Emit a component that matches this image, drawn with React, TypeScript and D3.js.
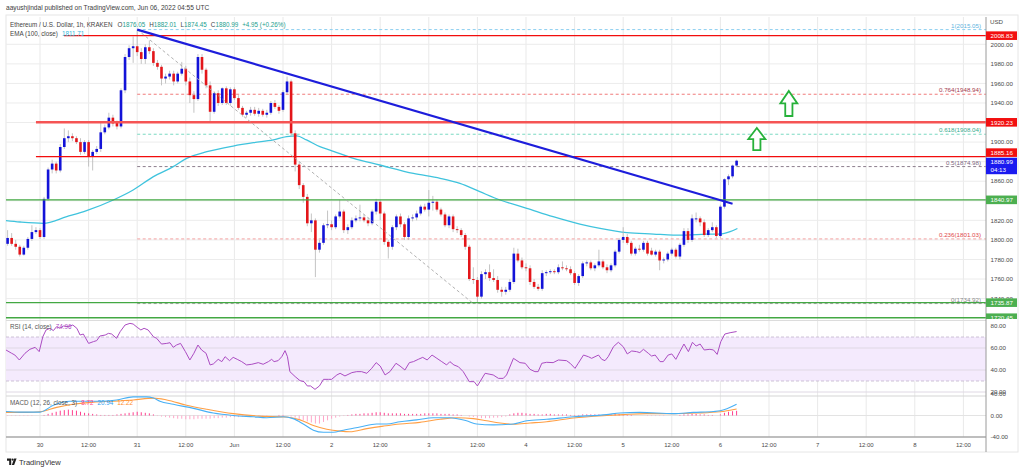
import * as d3 from 'd3'

// ETH/USD 1h, KRAKEN — hourly candles from 29 May 16:00 (hour -8) to 6 Jun 04:00 (hour 172)
const FIRST_HOUR = -8

const OPEN = [
  1796, 1802, 1796, 1793, 1785, 1792, 1801, 1808, 1810, 1803,
  1842, 1872, 1878, 1871, 1895, 1904, 1906, 1904, 1900, 1890,
  1900, 1885, 1890, 1893, 1910, 1915, 1925, 1920, 1916, 1953,
  1987, 1996, 1998, 1992, 1985, 1997, 1993, 1981, 1977, 1965,
  1967, 1970, 1962, 1970, 1975, 1962, 1948, 1944, 1987, 1974,
  1958, 1931, 1950, 1940, 1955, 1940, 1954, 1945, 1935, 1928,
  1930, 1933, 1929, 1932, 1928, 1930, 1940, 1936, 1933, 1951,
  1962, 1909, 1877, 1856, 1844, 1817, 1820, 1790, 1797, 1815,
  1816, 1813, 1824, 1829, 1810, 1813, 1820, 1822, 1823, 1820,
  1817, 1829, 1839, 1827, 1798, 1793, 1813, 1824, 1816, 1803,
  1822, 1823, 1827, 1834, 1831, 1838, 1839, 1831, 1826, 1815,
  1824, 1811, 1810, 1805, 1793, 1760, 1759, 1742, 1765, 1767,
  1761, 1759, 1749, 1747, 1749, 1757, 1786, 1779, 1772, 1771,
  1757, 1752, 1750, 1766, 1767, 1768, 1767, 1772, 1771, 1770,
  1766, 1756, 1763, 1776, 1777, 1771, 1774, 1778, 1772, 1769,
  1774, 1788, 1800, 1803, 1797, 1786, 1791, 1790, 1797, 1789,
  1785, 1788, 1779, 1780, 1786, 1790, 1783, 1795, 1809, 1800,
  1821, 1822, 1818, 1805, 1810, 1813, 1804, 1834, 1862, 1865,
  1876.05,
]
const CLOSE = [
  1802, 1796, 1793, 1785, 1792, 1801, 1808, 1810, 1803, 1842,
  1872, 1878, 1871, 1895, 1904, 1906, 1904, 1900, 1890, 1900,
  1885, 1890, 1893, 1910, 1915, 1925, 1919, 1916, 1953, 1987,
  1996, 1998, 1992, 1985, 1997, 1993, 1981, 1977, 1965, 1967,
  1970, 1962, 1970, 1975, 1962, 1948, 1944, 1987, 1974, 1958,
  1931, 1950, 1940, 1955, 1940, 1954, 1945, 1935, 1928, 1930,
  1933, 1929, 1932, 1928, 1930, 1940, 1936, 1932, 1951, 1962,
  1909, 1877, 1856, 1844, 1817, 1820, 1790, 1797, 1815, 1816,
  1813, 1824, 1829, 1810, 1813, 1820, 1822, 1823, 1820, 1817,
  1829, 1839, 1827, 1798, 1793, 1813, 1824, 1816, 1803, 1822,
  1823, 1827, 1834, 1831, 1838, 1839, 1831, 1826, 1815, 1824,
  1811, 1810, 1805, 1793, 1760, 1759, 1742, 1765, 1767, 1761,
  1759, 1749, 1747, 1749, 1757, 1786, 1779, 1772, 1771, 1757,
  1752, 1750, 1766, 1767, 1768, 1767, 1772, 1771, 1770, 1766,
  1756, 1763, 1776, 1777, 1771, 1774, 1778, 1772, 1769, 1774,
  1788, 1800, 1803, 1797, 1786, 1791, 1790, 1797, 1786, 1785,
  1788, 1779, 1780, 1786, 1790, 1783, 1795, 1809, 1800, 1822,
  1822, 1818, 1805, 1810, 1813, 1804, 1834, 1862, 1865, 1876,
  1880.99,
]
const HIGH = [
  1810, 1807, 1800, 1795, 1794, 1803, 1815, 1813, 1812, 1844,
  1874, 1882, 1880, 1898, 1914, 1912, 1909, 1906, 1904, 1902,
  1902, 1892, 1896, 1920, 1918, 1930, 1928, 1922, 1955, 1990,
  1999, 2008, 2015.05, 1996, 2000, 2004, 1996, 1984, 1979, 1970,
  1973, 1973, 1972, 1982, 1978, 1966, 1952, 1990, 1990, 1976,
  1962, 1952, 1953, 1956, 1957, 1956, 1956, 1948, 1937, 1932,
  1936, 1936, 1935, 1934, 1933, 1942, 1943, 1938, 1953, 1967,
  1964, 1912, 1880, 1858, 1847, 1827, 1822, 1800, 1817, 1830,
  1820, 1826, 1841, 1831, 1816, 1823, 1825, 1836, 1826, 1823,
  1831, 1842, 1841, 1829, 1800, 1815, 1826, 1827, 1818, 1825,
  1826, 1830, 1836, 1837, 1851, 1845, 1841, 1833, 1828, 1826,
  1826, 1814, 1812, 1807, 1795, 1772, 1762, 1768, 1770, 1775,
  1770, 1763, 1752, 1752, 1760, 1792, 1791, 1782, 1776, 1774,
  1760, 1755, 1769, 1769, 1770, 1770, 1775, 1778, 1774, 1773,
  1768, 1765, 1778, 1779, 1779, 1776, 1790, 1780, 1775, 1776,
  1790, 1802, 1813, 1806, 1799, 1793, 1795, 1799, 1799, 1792,
  1790, 1790, 1782, 1788, 1792, 1792, 1797, 1812, 1812, 1826,
  1828, 1824, 1821, 1812, 1818, 1815, 1836, 1863, 1867, 1877,
  1882.01,
]
const LOW = [
  1794, 1794, 1790, 1783, 1784, 1790, 1799, 1806, 1801, 1801,
  1840, 1868, 1868, 1869, 1893, 1900, 1901, 1898, 1887, 1888,
  1875, 1871, 1888, 1890, 1908, 1913, 1916, 1913, 1914, 1950,
  1984, 1981, 1988, 1980, 1980, 1990, 1978, 1974, 1958, 1960,
  1964, 1958, 1960, 1968, 1958, 1940, 1930, 1942, 1970, 1955,
  1921, 1929, 1937, 1938, 1938, 1937, 1943, 1933, 1926, 1925,
  1927, 1927, 1926, 1926, 1925, 1928, 1934, 1929, 1931, 1949,
  1906, 1870, 1852, 1838, 1814, 1808, 1762, 1787, 1795, 1812,
  1810, 1811, 1822, 1807, 1806, 1811, 1818, 1819, 1818, 1814,
  1815, 1826, 1820, 1795, 1781, 1790, 1810, 1813, 1800, 1800,
  1819, 1820, 1825, 1829, 1824, 1830, 1829, 1824, 1813, 1812,
  1808, 1807, 1803, 1790, 1758, 1755, 1734.92, 1740, 1760, 1758,
  1757, 1746, 1742, 1744, 1747, 1755, 1777, 1770, 1768, 1754,
  1750, 1748, 1748, 1763, 1765, 1765, 1765, 1769, 1768, 1764,
  1754, 1753, 1761, 1773, 1769, 1768, 1772, 1770, 1766, 1767,
  1772, 1786, 1797, 1795, 1784, 1784, 1788, 1788, 1784, 1784,
  1783, 1769, 1776, 1778, 1784, 1781, 1780, 1793, 1797, 1798,
  1818, 1814, 1803, 1803, 1808, 1802, 1802, 1832, 1856, 1863,
  1874.45,
]

// EMA(100) read as [hour, price]
const EMA = [
  [-9.9, 1820.4], [-4.9, 1818.3], [0.8, 1817], [6.6, 1823.8], [11.5, 1829.9], [18.1, 1840.8],
  [23, 1851], [28, 1864.7], [32.9, 1874.9], [36.2, 1883.4], [41.2, 1890.2], [47.7, 1896],
  [52.7, 1899.4], [57.6, 1902.2], [60.9, 1905.6], [63.4, 1906.3], [65.8, 1902.2], [69.1, 1895.3],
  [71.6, 1891.9], [77.4, 1883.4], [83.9, 1876.6], [92.2, 1868], [98.8, 1863], [103.7, 1857.8],
  [108.6, 1849.3], [113.6, 1840.8], [120.2, 1832.3], [126.7, 1823.7], [133.3, 1816.2], [138.3, 1811.8],
  [144.9, 1807.4], [151.5, 1806], [156.4, 1805], [159.7, 1805], [164.6, 1806], [167.9, 1806],
  [170.4, 1808.4], [172.2, 1811.71],
]

// RSI(14) read as [hour, value]
const RSI = [
  [-8.4, 58.2], [-7, 55.2], [-6.2, 53.6], [-5.1, 49.1], [-3.7, 55.2], [-2.5, 58.8], [-1.2, 60.6], [-0.2, 56.7],
  [0.7, 70.3], [1.5, 76.4], [2.5, 77.9], [3.3, 75.8], [4.1, 79.4], [4.9, 77.9], [5.8, 80], [7, 79.4],
  [8.1, 80.9], [9.1, 77.9], [9.9, 71.8], [10.7, 72.7], [12, 64.2], [13.2, 65.8], [14, 66.7], [14.8, 70.9],
  [16.1, 71.8], [16.9, 73.3], [17.7, 72.7], [18.9, 68.8], [19.8, 74.9], [21, 80.9], [22.2, 82.4], [23, 81.8],
  [24, 78.8], [24.9, 76.4], [25.7, 77.9], [26.7, 76.4], [28, 70.3], [28.8, 68.8], [30, 63.6], [31.3, 64.2],
  [32.1, 64.8], [32.9, 60.6], [33.7, 62.7], [34.7, 64.2], [35.9, 56.7], [37, 49.1], [38, 55.2], [39, 62.7],
  [39.9, 58.2], [41, 55.2], [42, 44.6], [42.8, 45.5], [44, 49.7], [44.9, 47.6], [45.7, 52.1], [46.8, 48.5],
  [47.7, 51.5], [48.7, 49.7], [49.8, 47.6], [51, 44.6], [52.3, 45.2], [53.9, 46.7], [55.1, 45.2], [56.4, 47.6],
  [57.2, 49.7], [57.8, 47.6], [58.8, 48.5], [59.7, 52.1], [60.5, 57.6], [61.1, 52.1], [61.7, 38.5], [63, 34],
  [64.2, 30.3], [65.2, 29.4], [66, 25.5], [66.8, 25.5], [67.9, 22.4], [69, 25.5], [70, 31.5], [71.2, 31.5],
  [72, 31.5], [73.3, 35.5], [74.1, 37], [75.3, 34.6], [77, 37.6], [78.2, 38.5], [79.4, 38.5], [80.7, 37],
  [81.9, 41.5], [83, 46.7], [84, 43.6], [85.2, 35.5], [86.4, 38.5], [87.9, 46.1], [88.9, 43.6], [90.1, 40],
  [91.2, 46.7], [92.2, 47.6], [93.4, 49.7], [94.5, 51.5], [95.6, 49.1], [96.8, 53.6], [98, 50.6], [99.2, 47.6],
  [100.4, 44.6], [101.2, 47.6], [102.2, 44.6], [103.3, 43], [104.5, 38.5], [106, 29.4], [107.2, 29.4], [108, 25.5],
  [109.9, 37], [111.1, 36.1], [111.9, 35.5], [113.2, 32.4], [114.4, 32.4], [115.2, 35.5], [116.9, 50.6], [118.5, 46.7],
  [119.8, 46.1], [121, 40.6], [122.2, 38.5], [123, 38.5], [123.9, 46.1], [125.1, 47], [126.7, 46.7], [128, 49.1],
  [130, 48.5], [130.9, 46.1], [132.1, 41.5], [132.9, 46.1], [134.2, 53.6], [135.4, 52.1], [136.2, 50.6], [137.9, 53.6],
  [138.7, 49.7], [139.5, 48.5], [140.3, 52.1], [141.6, 61.2], [142.8, 65.2], [144, 61.2], [145, 54.6], [146.1, 57.3],
  [147.3, 56.7], [148.1, 55.8], [149, 58.8], [150.2, 55.2], [151, 52.7], [151.9, 53.6], [153.1, 47.6], [153.9, 47.6],
  [155.1, 53.6], [156, 54.6], [157, 49.7], [158, 56.7], [159, 63.6], [160.1, 56.7], [161.1, 65.2], [162, 61.8],
  [163, 63.6], [164, 58.2], [165.4, 58.8], [166.3, 58.2], [167.2, 54.2], [168.1, 65.8], [169.1, 72.7], [170.4, 73.9],
  [172, 74.96],
]

// MACD(12, 26, 3) lines read as [hour, value]
const MACD = [
  [-8.4, 7.5], [-5, 6.3], [0, 6.3], [3.3, 19.1], [7.4, 26.6], [10.7, 26.6], [14.8, 26.6], [18.9, 28.9],
  [23, 34.7], [26.3, 34.7], [28, 32.4], [29.6, 26.6], [32.9, 20.8], [37.9, 13.3], [42.8, 4.6], [47.7, 0],
  [52.7, -2.4], [56, -4.1], [60.1, -2.4], [62.5, -5.8], [65, -15.7], [67.5, -27.3], [70, -31.3], [72.4, -31.3],
  [74.9, -27.3], [79, -21.5], [83.1, -15.7], [85.6, -15.7], [88.9, -11.6], [93, -8.1], [97.1, -4.1], [101.2, -4.1],
  [105.3, -9.9], [107.8, -15.7], [111.9, -17.4], [116.9, -15.7], [120.2, -9.9], [125.1, -7], [131.7, -2.4], [139.9, 1.7],
  [143.2, 4.6], [148.1, 5.8], [156.4, 3.5], [161.3, 5.8], [166.3, 7.5], [167.9, 8.7], [172, 20.94],
]
const SIGNAL = [
  [-8.4, 5.8], [-3.3, 5.8], [0, 7], [4.1, 15.1], [8.2, 20.8], [13.2, 24.9], [18.1, 26.6], [23, 28.9],
  [28, 32.4], [31.3, 28.9], [36.2, 19.1], [41.2, 11.6], [47.7, 3.5], [54.3, -1.2], [60.9, -2.9], [64.2, -8.1],
  [67.5, -18.6], [70.8, -25.5], [74.1, -29], [76.5, -30.2], [80.7, -24.4], [84.8, -19.7], [88.9, -15.7], [93.8, -12.8],
  [98.8, -7], [102.9, -4.1], [107, -5.8], [110.3, -9.9], [113.6, -13.9], [116.9, -16.3], [121, -14], [125.1, -11.6],
  [131.7, -4.7], [139.9, 0], [144, 1.7], [149.8, 3.5], [156.4, 3.5], [162.1, 4.6], [167.9, 7], [172, 12.22],
]
// histogram, one value per candle (hour -8 .. 172)
const HIST = [
  -1, -1, -1, -1, -1, -1, -1, 0, 0,
  1, 3, 5, 7, 9, 10, 11, 10, 9, 7,
  5, 4, 3, 2, 1, 1, 1, 1, 2, 3,
  4, 5, 6, 7, 6, 5, 4, 2,
  -1, -2, -3, -4, -5, -6, -6, -7, -7, -7, -6, -6, -6, -6, -5, -5, -4,
  -4, -3, -3, -3, -2, -2, -2, -1, -1, -1, -1, 0, 0, 1, 1, 0,
  -2, -4, -7, -9, -11, -13, -15, -15, -12, -9, -6, -4, -2, -1,
  1, 2, 3, 3, 4, 4, 5, 6, 6, 5, 4, 4, 4, 4, 3, 3, 3, 3, 3, 4,
  4, 4, 4, 3, 3, 3, 2, 2, 1, 0, -2, -3, -4,
  -5, -5, -5, -4, -4, -3, -2,
  2, 4, 5, 5, 4, 3, 3, 2, 2, 3, 3, 2, 2, 2, 2, 1, 1, 1, 2, 2,
  2, 2, 2, 1, 1, 2, 3, 3, 2, 1, 1, 0, 0, 0, -1, -1, -1, -1, -1, 0,
  0, 0, 1, 2, 2, 3, 3, 2, 2, 1, 1, 0, 2, 5, 7, 8, 8.72,
]

const TIME_TICK_HOURS = [0, 12, 24, 36, 48, 60, 72, 84, 96, 108, 120, 132, 144, 156, 168, 180, 192, 204, 216, 228]
const TIME_TICK_LABELS = ['30', '12:00', '31', '12:00', 'Jun', '12:00', '2', '12:00', '3', '12:00',
  '4', '12:00', '5', '12:00', '6', '12:00', '7', '12:00', '8', '12:00']
const PRICE_TICKS = [2000, 1980, 1960, 1940, 1920, 1900, 1880, 1860, 1840, 1820, 1800, 1780, 1760, 1740]
const RSI_TICKS = [60, 40, 20]
const MACD_TICKS = [40, 0, -40]

// Fibonacci retracement (31 May high -> 3 Jun low)
const FIB_LEVELS = ['1', '0.764', '0.618', '0.5', '0.236', '0']
const FIB_PRICES = [2015.05, 1948.94, 1908.04, 1874.98, 1801.03, 1734.92]
const FIB_START = 24
const FIB_END = 107

// horizontal support / resistance lines
const LEVEL_PRICES = [2008.83, 1920.23, 1885.16, 1840.97, 1735.87, 1720.45]
const LEVEL_START = [5.9, -1, -1, -10, -10, -10]
const LEVEL_KIND = ['red', 'redWide', 'red', 'green', 'green', 'green']

// descending trend line
const TREND_HOURS = [24, 171]
const TREND_PRICES = [2015, 1837]

// up arrows: [hour, top price, bottom price]
const ARROWS = [[177, 1914.4, 1891.9], [184.9, 1952.3, 1926.7]]

const SYMBOL = 'Ethereum / U.S. Dollar, 1h, KRAKEN'
const CHANGE = '+4.95 (+0.26%)'
const COUNTDOWN = '04:13'

const W = 1024
const H = 472
const LEFT = 6
const RIGHT = 986
const MAIN_TOP = 17
const MAIN_BOTTOM = 320
const RSI_BOTTOM = 396
const MACD_BOTTOM = 437

const BULL = '#1313d8'
const BEAR = '#e3161a'
const FONT = '"Liberation Sans", Arial, sans-serif'
const FIB_LINE_COLORS = ['#8ccff0', '#f07a7a', '#7ad9c2', '#8c7d8c', '#f4a0a0', '#a0a0a0']
const FIB_TEXT_COLORS = ['#5fb4e0', '#a3384c', '#33a98c', '#7d6680', '#e0464a', '#8a8a8a']
const KIND_COLOR: Record<string, string> = { red: '#f20d0d', redWide: '#f55454', green: '#43a843' }
const KIND_WIDTH: Record<string, number> = { red: 1.4, redWide: 2.6, green: 1.4 }
const KIND_TAG: Record<string, string> = { red: '#f21010', redWide: '#f21010', green: '#4caf50' }

function fmt(v: number) {
  return v.toFixed(2)
}

export default function App() {
  const x = d3.scaleLinear().domain([0, 168]).range([40, 720.4])
  const y = d3.scaleLinear().domain([1740, 2000]).range([298.6, 44.3])
  const yRsi = d3.scaleLinear().domain([20, 80]).range([392, 326])
  const yMacd = d3.scaleLinear().domain([-40, 40]).range([437, 394])

  const candles = OPEN.map((o, i) => ({ h: FIRST_HOUR + i, o, hi: HIGH[i], lo: LOW[i], c: CLOSE[i] }))

  const emaLine = d3.line<number[]>().x(d => x(d[0])).y(d => y(d[1])).curve(d3.curveMonotoneX)
  const rsiLine = d3.line<number[]>().x(d => x(d[0])).y(d => yRsi(d[1]))
  const macdLine = d3.line<number[]>().x(d => x(d[0])).y(d => yMacd(d[1])).curve(d3.curveMonotoneX)

  const lastCandle = candles[candles.length - 1]

  const arrowPath = (a: number[]) => {
    const cx = x(a[0])
    const ty = y(a[1])
    const by = y(a[2])
    const hh = (by - ty) * 0.5
    const hw = 8.5
    const sw = 3.6
    return `M${cx},${ty}L${cx + hw},${ty + hh}L${cx + sw},${ty + hh}L${cx + sw},${by}L${cx - sw},${by}L${cx - sw},${ty + hh}L${cx - hw},${ty + hh}Z`
  }

  return (
    <div style={{ position: 'absolute', left: 0, top: 0, width: W, height: H, background: '#fff' }}>
      <svg width={W} height={H} style={{ display: 'block', fontFamily: FONT }}>
        <defs>
          <clipPath id="mainClip"><rect x={LEFT} y={MAIN_TOP} width={RIGHT - LEFT} height={MAIN_BOTTOM - MAIN_TOP} /></clipPath>
          <clipPath id="lowerClip"><rect x={LEFT} y={MAIN_BOTTOM} width={RIGHT - LEFT} height={MACD_BOTTOM - MAIN_BOTTOM} /></clipPath>
          <clipPath id="tagClip"><rect x={RIGHT} y={MAIN_TOP} width={40} height={MAIN_BOTTOM - 1 - MAIN_TOP} /></clipPath>
        </defs>

        <text x={6} y={9.5} fontSize={6.6} fill="#3c3c3c">aayushjindal published on TradingView.com, Jun 06, 2022 04:55 UTC</text>

        {/* frame */}
        <rect x={LEFT} y={MAIN_TOP - 2} width={1018 - LEFT} height={452 - MAIN_TOP + 2} fill="none" stroke="#e6e6e6" strokeWidth={1} />

        {/* vertical grid */}
        {TIME_TICK_HOURS.map(h => (
          <line key={'vg' + h} x1={x(h)} x2={x(h)} y1={MAIN_TOP} y2={MACD_BOTTOM} stroke="#e9e9e9" strokeWidth={1} />
        ))}

        {/* main pane */}
        <g clipPath="url(#mainClip)">
          {PRICE_TICKS.map(p => (
            <line key={'hg' + p} x1={LEFT} x2={RIGHT} y1={y(p)} y2={y(p)} stroke="#ececec" strokeWidth={1} />
          ))}
          {FIB_PRICES.map((p, i) => (
            <line key={'fib' + i} x1={x(FIB_START)} x2={RIGHT} y1={y(p)} y2={y(p)}
              stroke={FIB_LINE_COLORS[i]} strokeWidth={1} strokeDasharray="3,2.5" />
          ))}
          <path d={emaLine(EMA) ?? ''} fill="none" stroke="#3fc3dd" strokeWidth={1.3} />
          {candles.map(d => (
            <g key={'c' + d.h}>
              <line x1={x(d.h)} x2={x(d.h)} y1={y(d.hi)} y2={y(d.lo)} stroke="#b5b5b5" strokeWidth={0.8} />
              <rect x={x(d.h) - 1.3} width={2.6}
                y={y(Math.max(d.o, d.c))}
                height={Math.max(0.9, y(Math.min(d.o, d.c)) - y(Math.max(d.o, d.c)))}
                fill={d.c >= d.o ? BULL : BEAR} />
            </g>
          ))}
          {LEVEL_PRICES.map((p, i) => (
            <line key={'lv' + i} x1={x(LEVEL_START[i])} x2={RIGHT} y1={y(p)} y2={y(p)}
              stroke={KIND_COLOR[LEVEL_KIND[i]]} strokeWidth={KIND_WIDTH[LEVEL_KIND[i]]} />
          ))}
          <line x1={x(FIB_START)} y1={y(FIB_PRICES[0])} x2={x(FIB_END)} y2={y(FIB_PRICES[5])}
            stroke="#a8a8a8" strokeWidth={0.9} strokeDasharray="3,2.5" />
          <line x1={x(TREND_HOURS[0])} y1={y(TREND_PRICES[0])} x2={x(TREND_HOURS[1])} y2={y(TREND_PRICES[1])}
            stroke="#1d1ddb" strokeWidth={2.1} />
          {ARROWS.map((a, i) => (
            <path key={'ar' + i} d={arrowPath(a)} fill="#fff" stroke="#27b13a" strokeWidth={1.8} strokeLinejoin="miter" />
          ))}
          {FIB_PRICES.map((p, i) => (
            <text key={'fl' + i} x={981} y={y(p) - 2} textAnchor="end" fontSize={6.2} fill={FIB_TEXT_COLORS[i]}>
              {`${FIB_LEVELS[i]}(${fmt(p)})`}
            </text>
          ))}
          <text x={10} y={26.5} fontSize={6.3} fill="#444">
            <tspan>{SYMBOL}</tspan>
            <tspan dx={5}>O</tspan><tspan fill="#24a08e">{fmt(lastCandle.o)}</tspan>
            <tspan dx={4}>H</tspan><tspan fill="#24a08e">{fmt(lastCandle.hi)}</tspan>
            <tspan dx={4}>L</tspan><tspan fill="#24a08e">{fmt(lastCandle.lo)}</tspan>
            <tspan dx={4}>C</tspan><tspan fill="#24a08e">{fmt(lastCandle.c)}</tspan>
            <tspan dx={4} fill="#24a08e">{CHANGE}</tspan>
          </text>
          <text x={10} y={36} fontSize={6.3} fill="#444">
            <tspan>EMA (100, close)</tspan>
            <tspan dx={4} fill="#2fb6da">{fmt(EMA[EMA.length - 1][1])}</tspan>
          </text>
        </g>

        {/* RSI + MACD panes */}
        <g clipPath="url(#lowerClip)">
          <line x1={LEFT} x2={RIGHT} y1={MAIN_BOTTOM + 0.5} y2={MAIN_BOTTOM + 0.5} stroke="#dcdcdc" strokeWidth={1} />
          <rect x={LEFT} width={RIGHT - LEFT} y={yRsi(70)} height={yRsi(30) - yRsi(70)} fill="#f4eafd" />
          <line x1={LEFT} x2={RIGHT} y1={yRsi(70)} y2={yRsi(70)} stroke="#c2b4cc" strokeWidth={0.8} strokeDasharray="3,2" />
          <line x1={LEFT} x2={RIGHT} y1={yRsi(30)} y2={yRsi(30)} stroke="#c2b4cc" strokeWidth={0.8} strokeDasharray="3,2" />
          {[60, 40, 20].map(v => (
            <line key={'rg' + v} x1={LEFT} x2={RIGHT} y1={yRsi(v)} y2={yRsi(v)} stroke="#dfd8e4" strokeWidth={1} />
          ))}
          <path d={rsiLine(RSI) ?? ''} fill="none" stroke="#ab4cc2" strokeWidth={1} />
          <line x1={LEFT} x2={RIGHT} y1={RSI_BOTTOM} y2={RSI_BOTTOM} stroke="#d6d6d6" strokeWidth={1.2} />
          <line x1={LEFT} x2={RIGHT} y1={yMacd(0)} y2={yMacd(0)} stroke="#e3e3e3" strokeWidth={1} />
          {HIST.map((v, i) => (
            <line key={'hb' + i} x1={x(FIRST_HOUR + i)} x2={x(FIRST_HOUR + i)} y1={yMacd(0)} y2={yMacd(v)}
              stroke={v >= 0 ? '#ff3f8e' : '#ffa6c8'} strokeWidth={1} />
          ))}
          <path d={macdLine(SIGNAL) ?? ''} fill="none" stroke="#ff9f45" strokeWidth={1.1} />
          <path d={macdLine(MACD) ?? ''} fill="none" stroke="#48b0f5" strokeWidth={1.1} />
          <text x={10} y={329} fontSize={6.3} fill="#555">
            <tspan>RSI (14, close)</tspan>
            <tspan dx={4} fill="#ab4cc2">{fmt(RSI[RSI.length - 1][1])}</tspan>
          </text>
          <text x={10} y={404.5} fontSize={6.3} fill="#555">
            <tspan>MACD (12, 26, close, 3)</tspan>
            <tspan dx={4} fill="#ff3f8e">{fmt(HIST[HIST.length - 1])}</tspan>
            <tspan dx={4} fill="#2d9df0">{fmt(MACD[MACD.length - 1][1])}</tspan>
            <tspan dx={4} fill="#ff8c2a">{fmt(SIGNAL[SIGNAL.length - 1][1])}</tspan>
          </text>
        </g>
        <line x1={LEFT} x2={RIGHT} y1={MACD_BOTTOM} y2={MACD_BOTTOM} stroke="#a8a8a8" strokeWidth={1.6} />

        {/* time axis */}
        {TIME_TICK_HOURS.map((h, i) => (
          <text key={'tl' + h} x={x(h)} y={446.5} textAnchor="middle" fontSize={6} fill="#4a4a4a">{TIME_TICK_LABELS[i]}</text>
        ))}

        {/* price axis */}
        <line x1={RIGHT} x2={RIGHT} y1={MAIN_TOP} y2={452} stroke="#9a9a9a" strokeWidth={1} />
        <text x={990} y={24} fontSize={6.2} fill="#4a4a4a">USD</text>
        {PRICE_TICKS.map(p => (
          <text key={'pt' + p} x={990.5} y={y(p) + 2.2} fontSize={6.2} fill="#4a4a4a">{fmt(p)}</text>
        ))}
        {RSI_TICKS.map(v => (
          <text key={'rt' + v} x={990.5} y={yRsi(v) + 2.2} fontSize={6.2} fill="#4a4a4a">{fmt(v)}</text>
        ))}
        {MACD_TICKS.map(v => (
          <text key={'mt' + v} x={990.5} y={yMacd(v) + 2.2} fontSize={6.2} fill="#4a4a4a">{fmt(v)}</text>
        ))}
        <g clipPath="url(#tagClip)">
          {LEVEL_PRICES.map((p, i) => {
            const cy = p === 1885.16 ? y(p) - 4 : y(p)
            return (
              <g key={'tag' + i}>
                <rect x={RIGHT} y={cy - 4.3} width={31} height={8.6} fill={KIND_TAG[LEVEL_KIND[i]]} />
                <text x={990.5} y={cy + 2.2} fontSize={6.2} fill="#fff">{fmt(p)}</text>
              </g>
            )
          })}
        </g>
        <rect x={RIGHT} y={y(lastCandle.c) - 3} width={31} height={16.5} fill="#1a1af0" />
        <text x={990.5} y={y(lastCandle.c) + 3.2} fontSize={6.2} fill="#fff">{fmt(lastCandle.c)}</text>
        <text x={990.5} y={y(lastCandle.c) + 10.8} fontSize={6.2} fill="#fff">{COUNTDOWN}</text>
        <text x={990.5} y={yRsi(80) + 2.2} fontSize={6.2} fill="#4a4a4a">80.00</text>

        {/* TradingView logo */}
        <g transform="translate(7,458.5)" fill="#1e1e1e">
          <path d="M0,0h4.2v6.5h-2v-4.3h-2.2z" />
          <circle cx={5.6} cy={1.1} r={1.1} />
          <path d="M7.2,0h2.4l-2.5,6.5h-2.3z" />
        </g>
        <text x={19} y={465} fontSize={7.6} fill="#333">TradingView</text>
      </svg>
    </div>
  )
}
